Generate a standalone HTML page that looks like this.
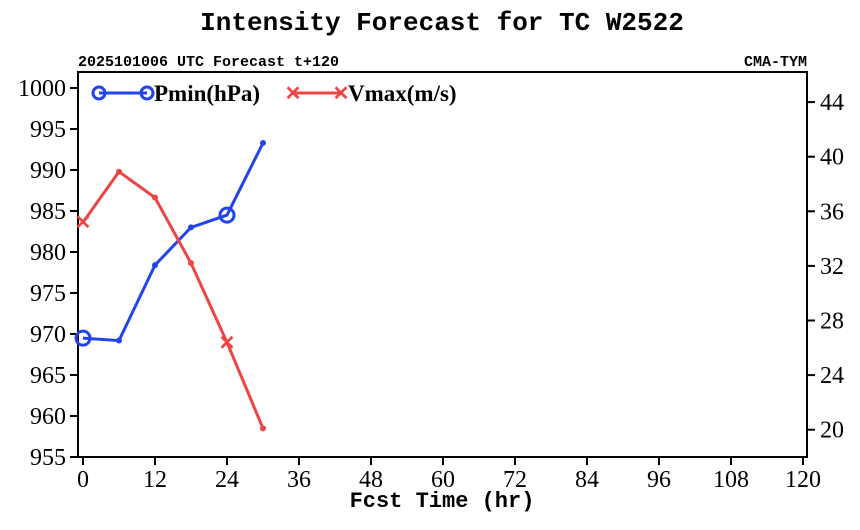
<!DOCTYPE html>
<html><head><meta charset="utf-8"><style>
body{margin:0;background:#fff}
</style></head><body>
<svg width="860" height="525" viewBox="0 0 860 525" xmlns="http://www.w3.org/2000/svg" font-family="Liberation Serif, serif">
<text x="442" y="30" text-anchor="middle" font-family="Liberation Mono, monospace" font-weight="bold" font-size="26">Intensity Forecast for TC W2522</text>
<text x="78" y="66" font-family="Liberation Mono, monospace" font-weight="bold" font-size="15">2025101006 UTC Forecast t+120</text>
<text x="807" y="66" text-anchor="end" font-family="Liberation Mono, monospace" font-weight="bold" font-size="15">CMA-TYM</text>
<rect x="78" y="72" width="729" height="385" fill="none" stroke="#000" stroke-width="2"/>
<g id="axes"></g>
<g id="series"></g>
<text x="442" y="507" text-anchor="middle" font-family="Liberation Mono, monospace" font-weight="bold" font-size="22">Fcst Time (hr)</text>
<g>
<line x1="99" y1="93" x2="147" y2="93" stroke="#2244ee" stroke-width="3"/>
<circle cx="99" cy="93" r="6" fill="none" stroke="#2244ee" stroke-width="3"/>
<circle cx="147" cy="93" r="6" fill="none" stroke="#2244ee" stroke-width="3"/>
<text x="154" y="101" font-weight="bold" font-size="23">Pmin(hPa)</text>
<line x1="293" y1="93" x2="341" y2="93" stroke="#ee4444" stroke-width="3"/>
<text x="293" y="100" text-anchor="middle" fill="#ee4444" font-family="Liberation Sans, sans-serif" font-weight="bold" font-size="20">✕</text>
<text x="341" y="100" text-anchor="middle" fill="#ee4444" font-family="Liberation Sans, sans-serif" font-weight="bold" font-size="20">✕</text>
<text x="348" y="101" font-weight="bold" font-size="23">Vmax(m/s)</text>
</g>
</svg>
<script>
const hours=[0,6,12,18,24,30];
const pmin=[969.5,969.2,978.4,983,984.5,993.3];
const vmax=[35.2,38.9,37.0,32.2,26.4,20.1];
const xTicks=[0,12,24,36,48,60,72,84,96,108,120];
const yLeftTicks=[955,960,965,970,975,980,985,990,995,1000];
const yRightTicks=[20,24,28,32,36,40,44];
const X=h=>83+h*6.0;
const YL=p=>457-(p-955)*8.2;
const YR=v=>457-(v-18)*13.65;
const NS="http://www.w3.org/2000/svg";
const ax=document.getElementById('axes'),se=document.getElementById('series');
function mk(p,tag,at,txt){const e=document.createElementNS(NS,tag);for(const k in at)e.setAttribute(k,at[k]);if(txt!=null)e.textContent=txt;p.appendChild(e);return e;}
xTicks.forEach(t=>{const x=X(t);
const l=mk(ax,'line',{x1:x,y1:457,x2:x,y2:465,stroke:'#000','stroke-width':2});


const s=mk(ax,'text',{x:x,y:487,'text-anchor':'middle','font-size':24},t);

});
yLeftTicks.forEach(t=>{const y=YL(t);
const l=mk(ax,'line',{x1:70,y1:y,x2:78,y2:y,stroke:'#000','stroke-width':2});


const s=mk(ax,'text',{x:66,y:y+8,'text-anchor':'end','font-size':24},t);

});
yRightTicks.forEach(t=>{const y=YR(t);
const l=mk(ax,'line',{x1:807,y1:y,x2:815,y2:y,stroke:'#000','stroke-width':2});


const s=mk(ax,'text',{x:820,y:y+8,'font-size':24},t);

});
function series(vals,Y,color,name,bigX){
const pl=mk(se,'polyline',{points:hours.map((h,i)=>X(h)+','+Y(vals[i])).join(' '),fill:'none',stroke:color,'stroke-width':3});


hours.forEach((h,i)=>{const x=X(h),y=Y(vals[i]);let m;
if(h%24===0){
 if(bigX){m=mk(se,'text',{x:x,y:y+7,'text-anchor':'middle',fill:color,'font-family':'Liberation Sans, sans-serif','font-weight':'bold','font-size':20},'✕');}
 else{m=mk(se,'circle',{cx:x,cy:y,r:7,fill:'none',stroke:color,'stroke-width':3});}
}else{m=mk(se,'circle',{cx:x,cy:y,r:3,fill:color});}

});}
series(pmin,YL,'#2244ee','pmin',false);
series(vmax,YR,'#ee4444','vmax',true);
</script>
</body></html>
